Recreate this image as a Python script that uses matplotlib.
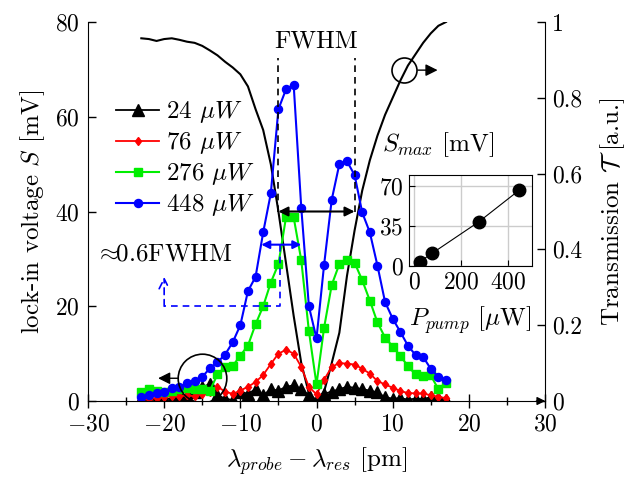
import numpy as np
import matplotlib
matplotlib.use("Agg")
import matplotlib.pyplot as plt

plt.rcParams['font.family'] = ['cmr10', 'DejaVu Serif']
plt.rcParams['mathtext.fontset'] = 'cm'
plt.rcParams['axes.formatter.use_mathtext'] = True
plt.rcParams['font.size'] = 18
TICK = 17

# ---------------- data ----------------
wl = [-23, -22, -21, -20, -19, -18, -17, -16, -15, -14, -13, -12, -11, -10, -9, -8, -7,
      -6, -5, -4, -3, -2, -1, 0, 1, 2, 3, 4, 5, 6, 7, 8, 9, 10, 11, 12, 13, 14, 15, 16, 17]

s24 = [0.5, 0.3, 0.2, 0.5, 0.4, 1.5, 1.0, 2.0, 3.0, 3.5, 1.2, 0.5, 0.2, 2.0, 1.5, 2.5, 1.2,
       2.5, 2.2, 3.0, 3.3, 2.5, 1.2, 0.2, 1.5, 2.0, 2.5, 3.0, 2.8, 2.5, 2.2, 1.8, 0.8, 0.5,
       0.6, 0.3, 0.5, 0.4, 0.8, 0.6, 0.3]
s76 = [0.3, 0.5, 0.6, 0.8, 1.0, 1.0, 1.2, 1.0, 1.5, 2.0, 3.0, 2.0, 1.5, 2.2, 3.0, 4.0, 5.5,
       7.8, 10.0, 10.8, 10.0, 7.2, 3.0, 1.4, 4.5, 7.2, 8.0, 7.9, 7.7, 6.8, 5.8, 4.2, 3.5, 2.8,
       2.1, 1.7, 1.6, 1.6, 1.2, 0.9, 0.6]
s276 = [1.8, 2.5, 2.2, 2.0, 2.2, 2.5, 2.8, 2.6, 2.5, 2.2, 5.6, 7.2, 7.4, 9.6, 11.7, 16.2, 20.0,
        25.0, 28.9, 38.8, 38.8, 29.7, 14.8, 3.5, 15.5, 24.5, 28.9, 29.8, 29.2, 25.5, 21.2, 16.6,
        13.4, 11.5, 9.5, 7.4, 5.6, 5.3, 5.4, 2.5, 3.9]
s448 = [0.9, 1.3, 1.75, 2.0, 2.7, 3.0, 3.7, 4.2, 5.1, 6.9, 8.2, 9.8, 12.4, 16.0, 23.2, 26.2, 35.6,
        43.8, 61.6, 65.8, 66.8, 40.8, 20.0, 13.2, 28.8, 42.5, 50.0, 50.6, 47.7, 39.8, 35.6, 28.6,
        20.9, 17.4, 14.6, 11.7, 9.7, 9.3, 6.8, 5.1, 4.4]

trans = [0.957, 0.955, 0.950, 0.955, 0.957, 0.953, 0.948, 0.945, 0.937, 0.925, 0.912, 0.895,
         0.880, 0.862, 0.830, 0.770, 0.715, 0.625, 0.50, 0.363, 0.225, 0.10, 0.02, 0.0, 0.025,
         0.10, 0.18, 0.33, 0.45, 0.555, 0.635, 0.70, 0.755, 0.80, 0.845, 0.885, 0.915, 0.945,
         0.97, 0.99, 1.0]

pump = [24, 76, 276, 448]
smax = [3.5, 10.8, 38.8, 66.8]
labels = [r'24 $\mu W$', r'76 $\mu W$', r'276 $\mu W$', r'448 $\mu W$']

# ---------------- figure ----------------
fig = plt.figure(figsize=(6.28, 4.78), dpi=100)
ax = fig.add_axes([88/628, 1-401/478, (545-88)/628, (401-22)/478])
ax2 = ax.twinx()
ax.set_zorder(ax2.get_zorder() + 1)
ax.patch.set_visible(False)

ax2.plot(wl, trans, color='k', lw=1.5)

ax.plot(wl, s24, color='k', marker='^', ms=8, lw=1.3, label=labels[0])
ax.plot(wl, s76, color='r', marker='d', ms=4.5, lw=1.3, label=labels[1])
ax.plot(wl, s276, color='#00ee00', marker='s', ms=5.5, lw=1.5, label=labels[2])
ax.plot(wl, s448, color='b', marker='o', ms=5.8, lw=1.5, label=labels[3])

ax.set_xlim(-30, 30)
ax.set_ylim(0, 80)
ax2.set_ylim(0, 1)
ax.set_xticks([-30, -20, -10, 0, 10, 20, 30])
ax.set_xticks([-25, -15, -5, 5, 15, 25], minor=True)
ax.set_yticks([0, 20, 40, 60, 80])
ax2.set_yticks([0, 0.2, 0.4, 0.6, 0.8, 1])
ax2.set_yticklabels(['0', '0.2', '0.4', '0.6', '0.8', '1'])

for a in (ax, ax2):
    a.spines['top'].set_visible(False)
ax.spines['right'].set_visible(False)
ax2.spines['left'].set_visible(False)
ax2.spines['bottom'].set_visible(False)

ax.tick_params(axis='x', which='major', direction='inout', length=10, width=1, pad=4, labelsize=TICK)
ax.tick_params(axis='x', which='minor', direction='inout', length=6, width=1)
ax.tick_params(axis='y', direction='in', length=6, width=1, pad=6, labelsize=TICK)
ax2.tick_params(axis='y', direction='in', length=6, width=1, pad=5, labelsize=TICK)

# arrow at the end of x axis
ax.annotate('', xy=(30.4, 0), xytext=(28.5, 0), xycoords='data',
            arrowprops=dict(arrowstyle='-|>', color='k', lw=1, mutation_scale=12),
            annotation_clip=False)

ax.set_xlabel(r'$\lambda_{probe}-\lambda_{res}$ [pm]', labelpad=7)
ax.set_ylabel(r'lock-in voltage $S$ [mV]', labelpad=6)
ax2.set_ylabel(r'Transmission $\mathcal{T}$ [a.u.]', labelpad=12)

leg = ax.legend(loc='upper left', bbox_to_anchor=(0.04, 0.822), frameon=False,
                handlelength=1.7, handletextpad=0.3, labelspacing=0.2, borderaxespad=0)

# FWHM annotation
ax.text(0, 76, 'FWHM', ha='center', va='center')
for xv in (-5, 5):
    ax.plot([xv, xv], [40, 72.5], color='k', ls=(0, (4, 3)), lw=1.2)
ax.annotate('', xy=(-5, 40), xytext=(5, 40),
            arrowprops=dict(arrowstyle='<|-|>', color='k', lw=1.5, mutation_scale=14, shrinkA=0, shrinkB=0))

# 0.6 FWHM annotation
ax.annotate('', xy=(-7.25, 33), xytext=(-2.0, 33),
            arrowprops=dict(arrowstyle='<|-|>', color='b', lw=1.5, mutation_scale=12, shrinkA=0, shrinkB=0))
ax.plot([-4.85, -4.85, -20], [33, 20, 20], color='b', ls=(0, (4, 3)), lw=1.2)
ax.annotate('', xy=(-20, 26.2), xytext=(-20, 20),
            arrowprops=dict(arrowstyle='->', color='b', lw=1.2, ls=(0, (4, 3)), shrinkA=0, shrinkB=0))
ax.text(-20, 31, r'$\approx\!\!$0.6FWHM', ha='center', va='center')

# circles pointing to axes
ax.plot([-15], [4.8], marker='o', ms=35, mfc='none', mec='k', mew=1.2)
ax.annotate('', xy=(-20.8, 4.8), xytext=(-18.2, 4.8),
            arrowprops=dict(arrowstyle='-|>', color='k', lw=1, shrinkA=0, shrinkB=0))
ax2.plot([11.5], [0.873], marker='o', ms=18, mfc='none', mec='k', mew=1.2)
ax2.annotate('', xy=(15.9, 0.873), xytext=(13.3, 0.873),
             arrowprops=dict(arrowstyle='-|>', color='k', lw=1, shrinkA=0, shrinkB=0))

# inset
axi = fig.add_axes([409.3/628, 1-265.7/478, (531.7-409.3)/628, (265.7-175)/478])
axi.plot(pump, smax, color='k', marker='o', ms=9, lw=0.8)
axi.set_xlim(-20, 500)
axi.set_ylim(0, 80)
axi.set_xticks([0, 200, 400])
axi.set_yticks([0, 35, 70])
axi.grid(True, color='#cccccc', lw=1)
axi.set_axisbelow(True)
axi.tick_params(direction='in', length=4, width=0.8, pad=4, labelsize=TICK)
axi.set_title(r'$S_{max}$ [mV]', fontsize=18, loc='left', x=-0.22, pad=17)
axi.set_xlabel(r'$P_{pump}$ [$\mu$W]', labelpad=8)

fig.savefig('out.png', dpi=100)
